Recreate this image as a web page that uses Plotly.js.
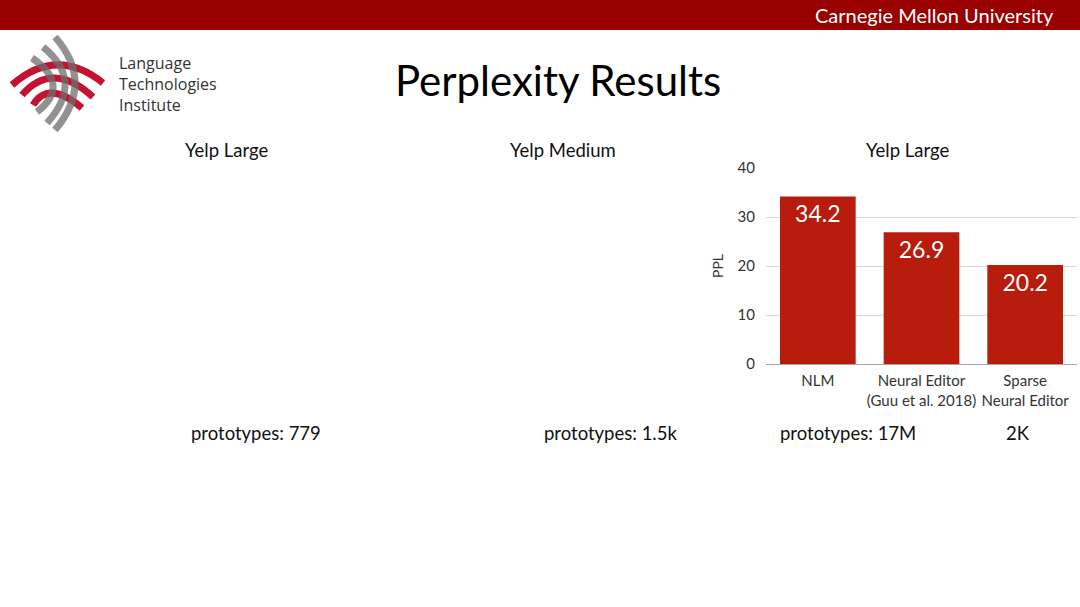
<!DOCTYPE html>
<html>
<head>
<meta charset="utf-8">
<script src="https://cdn.plot.ly/plotly-3.0.1.min.js"></script>
<style>
  html, body { margin: 0; padding: 0; background: #ffffff; }
  #chart { width: 1080px; height: 607px; }
</style>
</head>
<body>
<div id="chart"></div>
<script>
var categories = ['NLM', 'Neural Editor<br>(Guu et al. 2018)', 'Sparse<br>Neural Editor'];
var pplValues = [34.2, 26.9, 20.2];
var yTicks = [0, 10, 20, 30, 40];

var panelTitles = ['Yelp Large', 'Yelp Medium', 'Yelp Large'];
var prototypeLabels = ['prototypes: 779', 'prototypes: 1.5k', 'prototypes: 17M', '2K'];

var FONT = 'Lato, "Open Sans", sans-serif';
var RED = '#b71c0c';

// logo arcs as quadratic curves, in page pixels
function arc(x0, y0, cx, cy, x1, y1, color) {
  return {
    type: 'path', xref: 'x2', yref: 'y2',
    path: 'M' + x0 + ',' + y0 + ' Q' + cx + ',' + cy + ' ' + x1 + ',' + y1,
    line: {color: color, width: 7}
  };
}

function label(text, x, y, size, anchor, color, family) {
  return {
    text: text, x: x, y: y, xref: 'x2', yref: 'y2',
    showarrow: false, xanchor: anchor || 'center', yanchor: 'middle', align: anchor || 'center',
    font: {family: family || FONT, size: size, color: color || '#111111'}
  };
}

var shapes = [
  {type: 'rect', xref: 'x2', yref: 'y2', x0: 0, x1: 1080, y0: 0, y1: 30,
   fillcolor: '#990000', line: {width: 0}, layer: 'below'},
  arc(12, 85, 56.5, 46, 103, 83, '#c41230'),
  arc(22, 95, 52.5, 60, 93, 97, '#c41230'),
  arc(33, 105, 48.5, 79.5, 82, 108, '#c41230'),
  arc(55, 37, 95, 82.5, 55, 130, 'rgba(110,110,110,0.75)'),
  arc(43, 47, 85, 81, 47, 123, 'rgba(110,110,110,0.75)'),
  arc(32, 58, 71.5, 85, 37, 112, 'rgba(110,110,110,0.75)')
];

var annotations = [
  label('Carnegie Mellon University', 1056, 15, 20, 'right', '#ffffff'),
  label('Language<br>Technologies<br>Institute', 117, 84, 16, 'left', '#333333', '"Open Sans", sans-serif'),
  label('Perplexity Results', 558, 80, 42, 'center', '#000000'),
  label(panelTitles[0], 226, 150, 18.5),
  label(panelTitles[1], 563, 150, 18.5),
  label(panelTitles[2], 907, 150, 18.5),
  label(prototypeLabels[0], 256, 433, 18.5),
  label(prototypeLabels[1], 610, 433, 18.5),
  label(prototypeLabels[2], 848, 433, 18.5),
  label(prototypeLabels[3], 1018, 433, 18.5)
];

var bars = {
  type: 'bar',
  x: categories,
  y: pplValues,
  marker: {color: RED},
  texttemplate: '%{y:.1f}',
  textposition: 'inside',
  insidetextanchor: 'end',
  textfont: {family: FONT, size: 23, color: '#ffffff'},
  hoverinfo: 'skip'
};

var overlay = {
  type: 'scatter', x: [], y: [], xaxis: 'x2', yaxis: 'y2', hoverinfo: 'skip', showlegend: false
};

var layout = {
  width: 1080,
  height: 607,
  margin: {l: 0, r: 0, t: 0, b: 0},
  paper_bgcolor: '#ffffff',
  plot_bgcolor: 'rgba(0,0,0,0)',
  showlegend: false,
  bargap: 0.27,
  font: {family: FONT, color: '#404040'},
  xaxis: {
    domain: [766 / 1080, 1077 / 1080],
    tickfont: {family: FONT, size: 15, color: '#333333'},
    showline: true, linecolor: '#a6a6a6', linewidth: 1,
    ticks: '', ticklabelstandoff: 3, fixedrange: true
  },
  yaxis: {
    domain: [1 - 364 / 607, 1 - 168 / 607],
    range: [0, 40],
    tickvals: yTicks,
    tickfont: {family: FONT, size: 15, color: '#333333'},
    gridcolor: '#d9d9d9', zeroline: false,
    ticks: '', ticklabelstandoff: 10,
    title: {text: 'PPL', font: {family: FONT, size: 14, color: '#333333'}, standoff: 10},
    fixedrange: true
  },
  xaxis2: {domain: [0, 1], range: [0, 1080], visible: false, anchor: 'y2', fixedrange: true},
  yaxis2: {domain: [0, 1], range: [607, 0], visible: false, anchor: 'x2', fixedrange: true},
  shapes: shapes,
  annotations: annotations
};

Plotly.newPlot('chart', [bars, overlay], layout, {displayModeBar: false, staticPlot: true});
</script>
</body>
</html>
